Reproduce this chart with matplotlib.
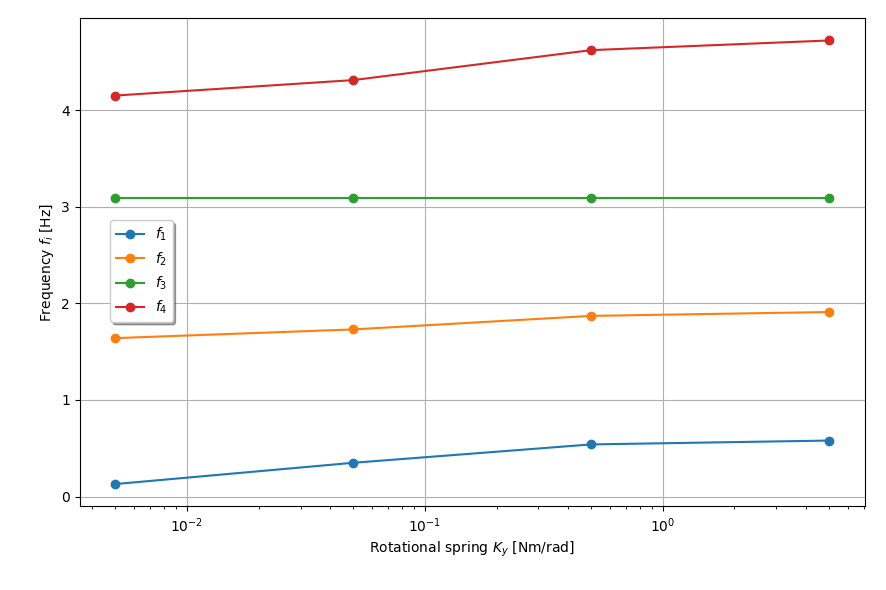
import matplotlib
matplotlib.use("Agg")
import matplotlib.pyplot as plt

K = [0.005, 0.05, 0.5, 5]
f1 = [0.13, 0.35, 0.54, 0.58]
f2 = [1.64, 1.73, 1.87, 1.91]
f3 = [3.09, 3.09, 3.09, 3.09]
f4 = [4.15, 4.31, 4.62, 4.72]
labels = ["$f_1$", "$f_2$", "$f_3$", "$f_4$"]

fig = plt.figure(figsize=(8.86, 5.9), dpi=100)
ax = fig.add_axes([0.09, 0.142, 0.886, 0.827])
for y, l in zip([f1, f2, f3, f4], labels):
    ax.plot(K, y, marker="o", label=l)
ax.set_xscale("log")
ax.grid(True)
ax.set_xlabel("Rotational spring $K_y$ [Nm/rad]")
ax.set_ylabel("Frequency $f_i$ [Hz]")
ax.legend(loc="upper left", bbox_to_anchor=(0.03, 0.6), shadow=True)
fig.savefig("out.png")
